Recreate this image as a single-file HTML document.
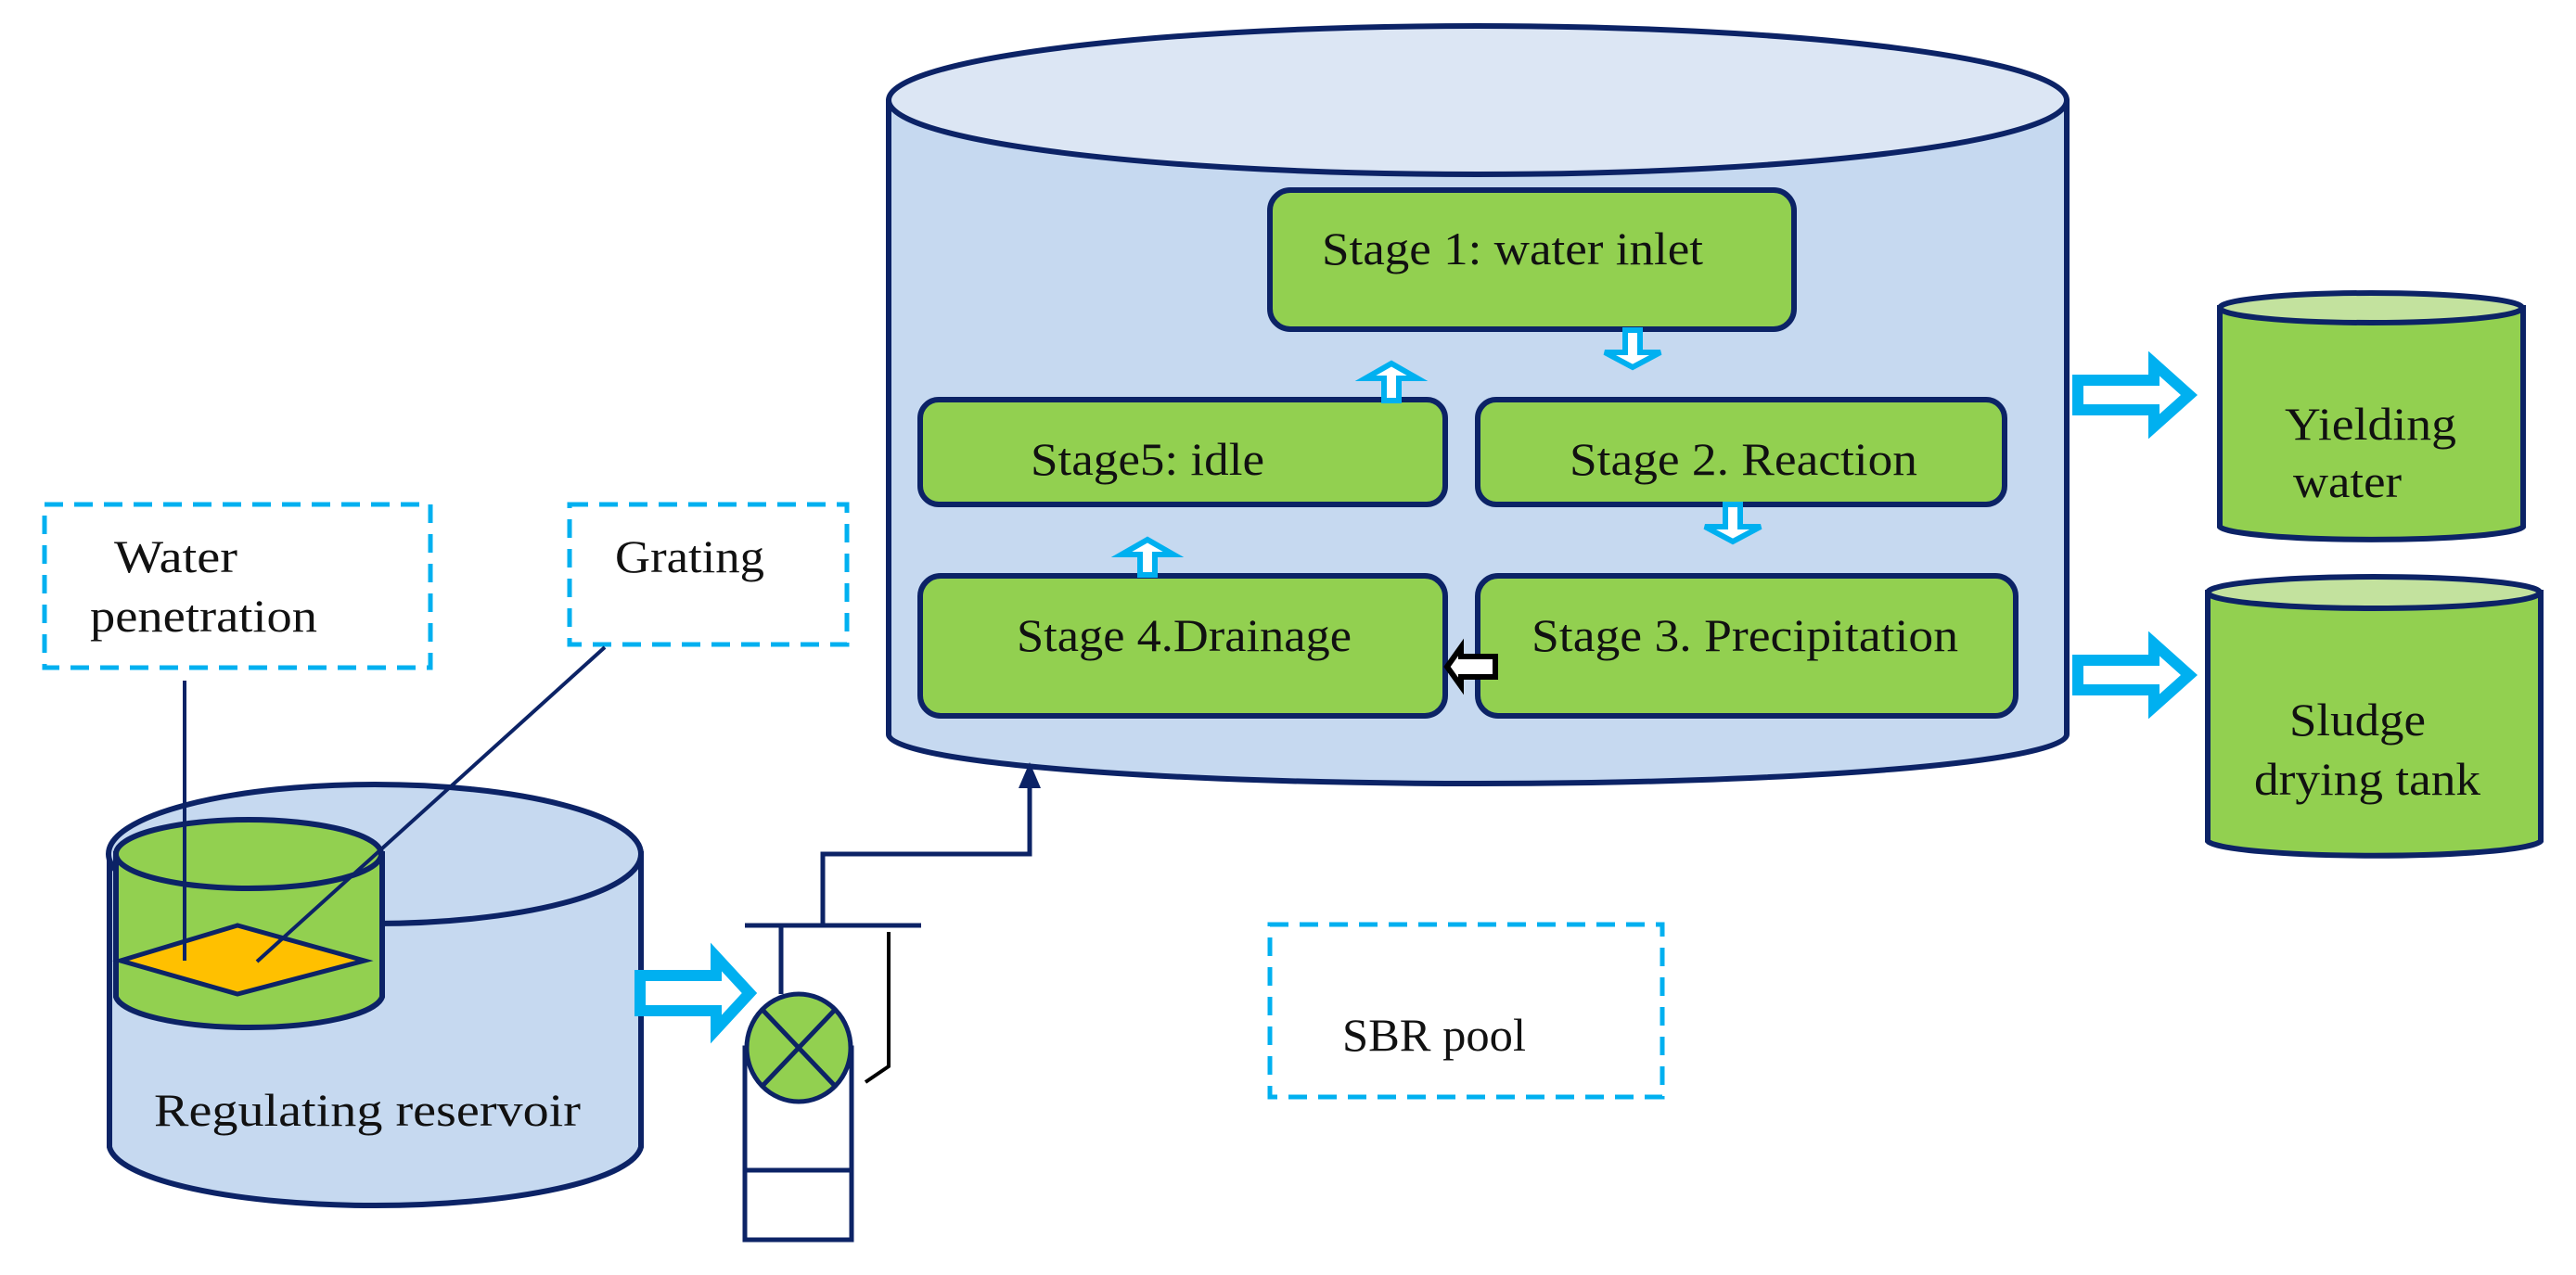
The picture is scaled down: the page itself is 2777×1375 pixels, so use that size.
<!DOCTYPE html>
<html><head><meta charset="utf-8"><style>html,body{margin:0;padding:0;background:#fff}svg{display:block}</style></head>
<body>
<svg width="2777" height="1375" viewBox="0 0 2777 1375" xmlns="http://www.w3.org/2000/svg" font-family="'Liberation Serif', serif" fill="#111">
<!-- SBR big cylinder -->
<path d="M958,110 L958,792 A635,53 0 0 0 2228,792 L2228,110 Z" fill="#c6d9f0" stroke="#0c2366" stroke-width="6"/>
<ellipse cx="1593" cy="108" rx="635" ry="80" fill="#dce6f4" stroke="#0c2366" stroke-width="6"/>
<!-- stage boxes -->
<g fill="#92d050" stroke="#0c2366" stroke-width="6">
<rect x="1369" y="205" width="565" height="150" rx="22"/>
<rect x="992" y="431" width="566" height="113" rx="20"/>
<rect x="1593" y="431" width="568" height="113" rx="20"/>
<rect x="992" y="621" width="566" height="151" rx="22"/>
<rect x="1593" y="621" width="580" height="151" rx="22"/>
</g>
<g font-size="50">
<text x="1425" y="285" textLength="411" lengthAdjust="spacingAndGlyphs">Stage 1: water inlet</text>
<text x="1111" y="512" textLength="252" lengthAdjust="spacingAndGlyphs">Stage5: idle</text>
<text x="1692" y="512" textLength="375" lengthAdjust="spacingAndGlyphs">Stage 2. Reaction</text>
<text x="1096" y="702" textLength="361" lengthAdjust="spacingAndGlyphs">Stage 4.Drainage</text>
<text x="1651" y="702" textLength="460" lengthAdjust="spacingAndGlyphs">Stage 3. Precipitation</text>
</g>
<!-- small arrows -->
<g fill="#fff" stroke="#00b0f0" stroke-width="6" stroke-linejoin="miter">
<polygon points="1752,356 1768,356 1768,380 1790,380 1760,396 1730,380 1752,380"/>
<polygon points="1860,544 1876,544 1876,568 1898,568 1868,584 1838,568 1860,568"/>
<polygon points="1492,432 1508,432 1508,408 1528,408 1500,392 1472,408 1492,408"/>
<polygon points="1229,620 1245,620 1245,598 1265,598 1237,582 1209,598 1229,598"/>
</g>
<polygon points="1612,708 1612,730 1575,730 1575,740 1560,719 1575,698 1575,708" fill="#fff" stroke="#000" stroke-width="6"/>
<!-- right big arrows -->
<g fill="#fff" stroke="#00b0f0" stroke-width="12">
<polygon points="2240,410 2322,410 2322,392 2360,426 2322,460 2322,442 2240,442"/>
<polygon points="2240,712 2322,712 2322,694 2360,728 2322,762 2322,744 2240,744"/>
</g>
<!-- Yielding water cylinder -->
<path d="M2393,332 L2393,568 A164,15 0 0 0 2720,568 L2720,332 Z" fill="#92d050" stroke="#0c2366" stroke-width="6"/>
<ellipse cx="2556" cy="332" rx="163" ry="16" fill="#c3e29e" stroke="#0c2366" stroke-width="6"/>
<!-- Sludge cylinder -->
<path d="M2380,639 L2380,907 A180,17 0 0 0 2739,907 L2739,639 Z" fill="#92d050" stroke="#0c2366" stroke-width="6"/>
<ellipse cx="2559" cy="639" rx="179" ry="17" fill="#c3e29e" stroke="#0c2366" stroke-width="6"/>
<g font-size="50">
<text x="2463" y="474" textLength="185" lengthAdjust="spacingAndGlyphs">Yielding</text>
<text x="2472" y="536" textLength="117" lengthAdjust="spacingAndGlyphs">water</text>
<text x="2468" y="793" textLength="147" lengthAdjust="spacingAndGlyphs">Sludge</text>
<text x="2430" y="857" textLength="244" lengthAdjust="spacingAndGlyphs">drying tank</text>
</g>
<!-- dashed boxes -->
<g fill="none" stroke="#00b0f0" stroke-width="5" stroke-dasharray="20,12">
<rect x="48" y="544" width="416" height="176"/>
<rect x="614" y="544" width="299" height="151"/>
<rect x="1369" y="997" width="423" height="186"/>
</g>
<g font-size="50">
<text x="123" y="617" textLength="133" lengthAdjust="spacingAndGlyphs">Water</text>
<text x="97" y="681" textLength="245" lengthAdjust="spacingAndGlyphs">penetration</text>
<text x="663" y="617" textLength="161" lengthAdjust="spacingAndGlyphs">Grating</text>
<text x="1447" y="1133" textLength="198" lengthAdjust="spacingAndGlyphs">SBR pool</text>
</g>
<!-- Regulating reservoir -->
<path d="M118,921 L118,1237 A287,67 0 0 0 691,1237 L691,921 Z" fill="#c6d9f0" stroke="#0c2366" stroke-width="6"/>
<ellipse cx="404" cy="921" rx="287" ry="75" fill="#c6d9f0" stroke="#0c2366" stroke-width="6"/>
<!-- inner green cylinder -->
<path d="M125,921 L125,1075 A144,36 0 0 0 412,1075 L412,921 Z" fill="#92d050" stroke="#0c2366" stroke-width="6"/>
<ellipse cx="268" cy="921" rx="143" ry="37" fill="#92d050" stroke="#0c2366" stroke-width="6"/>
<polygon points="130,1036 256,998 393,1036 256,1072" fill="#ffc000" stroke="#0c2366" stroke-width="5"/>
<text x="166" y="1214" font-size="50" textLength="460" lengthAdjust="spacingAndGlyphs">Regulating  reservoir</text>
<!-- leader lines -->
<g stroke="#0c2366" stroke-width="4" fill="none">
<line x1="199" y1="734" x2="199" y2="1036"/>
<line x1="652" y1="698" x2="277" y2="1037"/>
</g>
<!-- left blue arrow -->
<polygon points="690,1052 772,1052 772,1032 808,1071 772,1110 772,1090 690,1090" fill="#fff" stroke="#00b0f0" stroke-width="12"/>
<!-- pump -->
<g stroke="#0c2366" stroke-width="5" fill="none">
<rect x="803" y="1130" width="115" height="207" fill="#fff"/>
<line x1="803" y1="1262" x2="918" y2="1262"/>
<line x1="842" y1="998" x2="842" y2="1072"/>
<line x1="803" y1="998" x2="993" y2="998"/>
<polyline points="887,998 887,921 1110,921 1110,840"/>
</g>
<ellipse cx="861" cy="1130" rx="56" ry="58" fill="#92d050" stroke="#0c2366" stroke-width="5"/>
<g stroke="#0c2366" stroke-width="5">
<line x1="822" y1="1089" x2="900" y2="1171"/>
<line x1="900" y1="1089" x2="822" y2="1171"/>
</g>
<polygon points="1110,822 1098,850 1122,850" fill="#0c2366"/>
<polyline points="958,1005 958,1150 933,1167" fill="none" stroke="#000" stroke-width="4"/>
</svg>
</body></html>
